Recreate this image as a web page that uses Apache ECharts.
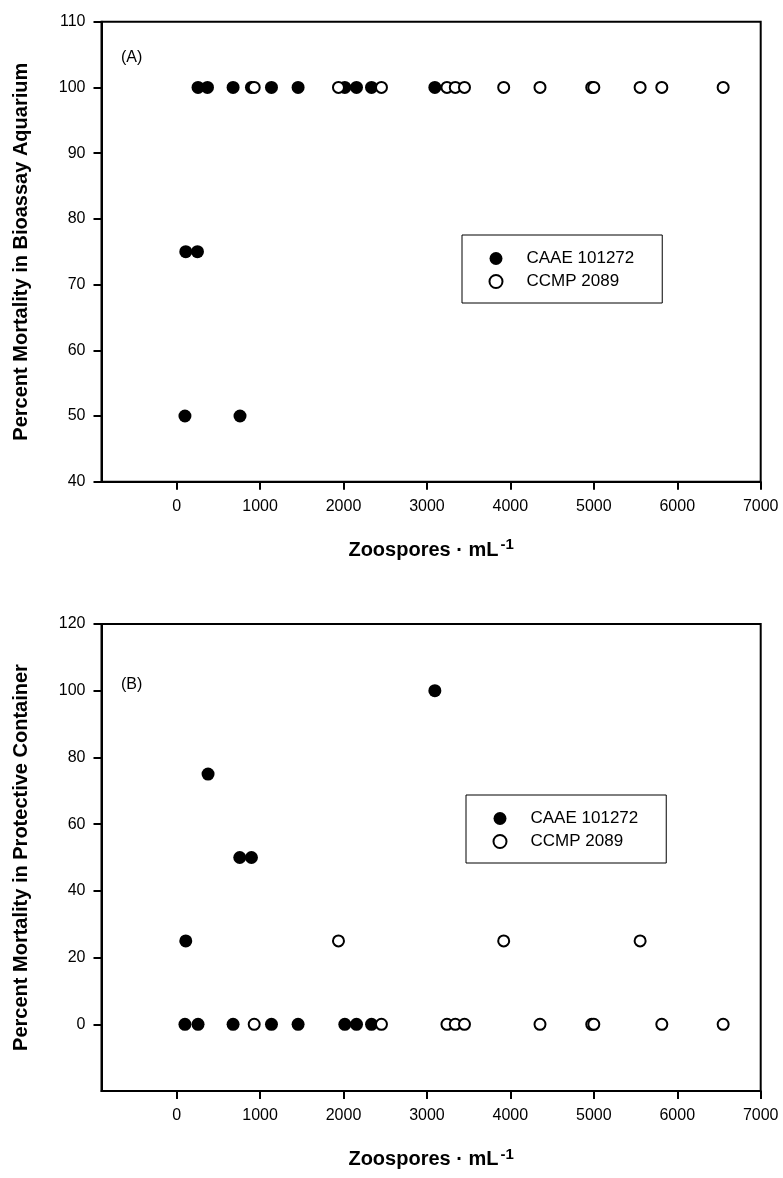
<!DOCTYPE html>
<html>
<head>
<meta charset="utf-8">
<script src="https://cdn.jsdelivr.net/npm/echarts@6/dist/echarts.min.js"></script>
<style>
  html, body { margin: 0; padding: 0; background: #fff; }
  #chart { width: 783px; height: 1178px; }
</style>
</head>
<body>
<div id="chart"></div>
<script>
// panel A: mortality in bioassay aquarium
var caaeAx = [100, 760, 110, 250, 257, 370, 677, 897, 1137, 1456, 2016, 2156, 2336, 3095];
var caaeAy = [50, 50, 75, 75, 100, 100, 100, 100, 100, 100, 100, 100, 100, 100];
var ccmpAx = [930, 1940, 2455, 3240, 3340, 3450, 3920, 4355, 4975, 5000, 5555, 5815, 6550];
var ccmpAy = [100, 100, 100, 100, 100, 100, 100, 100, 100, 100, 100, 100, 100];

// panel B: mortality in protective container
var caaeBx = [100, 257, 677, 1137, 1456, 2016, 2156, 2336, 110, 377, 757, 897, 3095];
var caaeBy = [0, 0, 0, 0, 0, 0, 0, 0, 25, 75, 50, 50, 100];
var ccmpBx = [930, 1940, 2455, 3240, 3340, 3450, 3920, 4355, 4975, 5000, 5555, 5815, 6550];
var ccmpBy = [0, 25, 0, 0, 0, 0, 25, 0, 0, 0, 25, 0, 0];

var xTicks = [0, 1000, 2000, 3000, 4000, 5000, 6000, 7000];

function pairs(xs, ys) {
  return xs.map(function (x, i) { return [x, ys[i]]; });
}

var font = '"Liberation Sans", Arial, sans-serif';

function xAxisFor(gridIndex) {
  return {
    gridIndex: gridIndex,
    type: 'value',
    min: -900,
    max: 7000,
    name: '{a|Zoospores · mL}{s|-1}',
    nameLocation: 'middle',
    nameGap: 56,
    nameTextStyle: {
      rich: {
        a: { fontFamily: font, fontSize: 20, fontWeight: 'bold', color: '#000' },
        s: { fontFamily: font, fontSize: 15, fontWeight: 'bold', color: '#000', verticalAlign: 'bottom', padding: [0, 0, 10, 2] }
      }
    },
    axisLine: { show: true, onZero: false, lineStyle: { color: '#000', width: 2 } },
    axisTick: { show: true, length: 8, lineStyle: { color: '#000', width: 2 }, customValues: xTicks },
    axisLabel: { color: '#000', fontFamily: font, fontSize: 16, margin: 17, customValues: xTicks, formatter: function (v) { return String(v); } },
    splitLine: { show: false }
  };
}

function yAxisFor(gridIndex, name, min, max, interval, showMin) {
  return {
    gridIndex: gridIndex,
    type: 'value',
    min: min,
    max: max,
    interval: interval,
    name: name,
    nameLocation: 'middle',
    nameGap: 70,
    nameTextStyle: { fontFamily: font, fontSize: 20, fontWeight: 'bold', color: '#000' },
    axisLine: { show: true, onZero: false, lineStyle: { color: '#000', width: 2 } },
    axisTick: { show: true, length: 8, lineStyle: { color: '#000', width: 2 } },
    axisLabel: { color: '#000', fontFamily: font, fontSize: 16, margin: 16, showMinLabel: showMin },
    splitLine: { show: false }
  };
}

function legendFor(left, top, items) {
  return {
    left: left,
    top: top,
    orient: 'vertical',
    icon: 'circle',
    itemWidth: 13,
    itemHeight: 13,
    itemGap: 6,
    padding: [15, 28, 13, 26.5],
    borderColor: '#000',
    borderWidth: 1,
    borderRadius: 0,
    selectedMode: false,
    textStyle: { fontFamily: font, fontSize: 17, color: '#000', lineHeight: 17, padding: [0, 0, 0, 19] },
    data: items
  };
}

var openStyle = { color: '#fff', borderColor: '#000', borderWidth: 2, opacity: 1 };
var fillStyle = { color: '#000', opacity: 1 };

var option = {
  backgroundColor: '#fff',
  animation: false,
  grid: [
    { left: 101.5, top: 21.7, width: 659.2, height: 460, show: true, borderColor: '#000', borderWidth: 2, backgroundColor: 'transparent' },
    { left: 101.5, top: 624, width: 659.2, height: 467, show: true, borderColor: '#000', borderWidth: 2, backgroundColor: 'transparent' }
  ],
  xAxis: [xAxisFor(0), xAxisFor(1)],
  yAxis: [
    yAxisFor(0, 'Percent Mortality in Bioassay Aquarium', 40, 110, 10, true),
    yAxisFor(1, 'Percent Mortality in Protective Container', -20, 120, 20, false)
  ],
  legend: [
    legendFor(462, 235, [
      { name: 'CAAE 101272', itemStyle: fillStyle },
      { name: 'CCMP 2089', itemStyle: openStyle }
    ]),
    legendFor(466, 795, [
      { name: 'CAAE 101272', itemStyle: fillStyle },
      { name: 'CCMP 2089', itemStyle: openStyle }
    ])
  ],
  graphic: [
    { type: 'text', left: 121, top: 50, style: { text: '(A)', font: '16px ' + font, fill: '#000' } },
    { type: 'text', left: 121, top: 677, style: { text: '(B)', font: '16px ' + font, fill: '#000' } }
  ],
  series: [
    { name: 'CAAE 101272', type: 'scatter', xAxisIndex: 0, yAxisIndex: 0, symbol: 'circle', symbolSize: 13, itemStyle: fillStyle, data: pairs(caaeAx, caaeAy) },
    { name: 'CCMP 2089', type: 'scatter', xAxisIndex: 0, yAxisIndex: 0, symbol: 'circle', symbolSize: 11, itemStyle: openStyle, data: pairs(ccmpAx, ccmpAy) },
    { name: 'CAAE 101272', type: 'scatter', xAxisIndex: 1, yAxisIndex: 1, symbol: 'circle', symbolSize: 13, itemStyle: fillStyle, data: pairs(caaeBx, caaeBy) },
    { name: 'CCMP 2089', type: 'scatter', xAxisIndex: 1, yAxisIndex: 1, symbol: 'circle', symbolSize: 11, itemStyle: openStyle, data: pairs(ccmpBx, ccmpBy) }
  ]
};

var chart = echarts.init(document.getElementById('chart'));
chart.setOption(option);
</script>
</body>
</html>
